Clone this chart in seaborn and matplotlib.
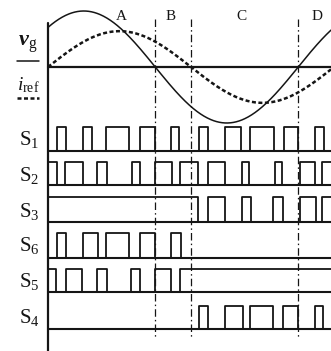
import numpy as np
import pandas as pd
import seaborn as sns
from matplotlib import pyplot as plt

sns.set_theme(style='white')
plt.rcParams['font.family'] = ['Liberation Serif', 'DejaVu Serif']
plt.rcParams['mathtext.fontset'] = 'custom'
plt.rcParams['mathtext.rm'] = 'Liberation Serif'
plt.rcParams['mathtext.it'] = 'Liberation Serif:italic'
plt.rcParams['mathtext.bf'] = 'Liberation Serif:bold:italic'

# phase angle in degrees (0 = start of i_ref)
region_names = ['A', 'B', 'C', 'D']
region_bounds = [135, 180, 315]
vg_phase = 45          # v_g leads i_ref
vg_amp, iref_amp = 1.0, 0.64

# switching signals: (on, off) in degrees
S1 = [(11, 23), (44, 55), (73, 102), (116, 135), (155, 165),
      (190, 201), (223, 243), (254, 285), (297, 315), (336, 347)]
S2 = [(0, 11), (21, 44), (62, 74), (106, 116), (135, 156), (166, 189),
      (201, 223), (244, 253), (286, 295), (317, 336), (345, 365)]
S3 = [(0, 189), (201, 223), (244, 256), (283, 296), (317, 337), (345, 365)]
S6 = [(11, 23), (44, 63), (73, 102), (116, 135), (155, 167)]
S5 = [(0, 10), (23, 43), (62, 74), (104, 116), (135, 155), (166, 365)]
S4 = [(190, 201), (223, 245), (254, 283), (296, 315), (336, 346)]
signal_labels = ['1', '2', '3', '6', '5', '4']
signals = [S1, S2, S3, S6, S5, S4]

# layout (pixel rows, y grows downward)
x_end = 356.2
zero_y, wave_scale = 67, 56
row_low = [150.5, 185, 221.5, 257.5, 292, 328.5]
row_high = [126.5, 162, 197, 233, 269, 305.5]
label_y = [140, 175, 211, 246, 282, 318]
label_x = -24
ink = '#151515'

fig = plt.figure(figsize=(3.31, 3.51), dpi=100)
ax = fig.add_axes([0, 0, 1, 1])

theta = np.linspace(0, x_end, 500)
waves = pd.DataFrame({
    'theta': theta,
    'vg': zero_y - wave_scale * vg_amp * np.sin(np.radians(theta + vg_phase)),
    'iref': zero_y - wave_scale * iref_amp * np.sin(np.radians(theta)),
})
sns.lineplot(data=waves, x='theta', y='vg', ax=ax, color=ink, lw=1.1)
sns.lineplot(data=waves, x='theta', y='iref', ax=ax, color=ink, lw=1.8,
             linestyle=(0, (1.6, 1.0)))

# axes lines
ax.plot([0, x_end], [zero_y, zero_y], color=ink, lw=1.6)
ax.plot([0, 0], [23, 351], color=ink, lw=1.6)

for pulses, lo, hi in zip(signals, row_low, row_high):
    xs, ys = [0], [lo]
    for a, b in pulses:
        xs += [a, a, b, b]
        ys += [lo, hi, hi, lo]
    xs.append(x_end + 10)
    ys.append(lo)
    step = pd.DataFrame({'x': xs, 'y': ys})
    sns.lineplot(data=step, x='x', y='y', ax=ax, sort=False, estimator=None,
                 color=ink, lw=1.3)
    ax.plot([0, x_end], [lo, lo], color=ink, lw=1.5)

for xb in region_bounds:
    ax.plot([xb, xb], [19, 338], color=ink, lw=0.9,
            linestyle=(0, (6, 2.5, 1.2, 2.5)))

name_x = [92, 154, 243, 338]
for nm, xn in zip(region_names, name_x):
    ax.text(xn, 17, nm, ha='center', va='center', fontsize=11, color=ink)

ax.text(label_x - 1, 44, r'$\mathbf{v}_{\mathrm{g}}$', ha='center',
        va='center', fontsize=16, color=ink)
ax.plot([-39, -11], [61, 61], color=ink, lw=1.1)
ax.text(label_x - 1, 85, r'$i_{\mathrm{ref}}$', ha='center', va='center',
        fontsize=14, color=ink)
ax.plot([-39, -11], [98, 98], color=ink, lw=1.8, linestyle=(0, (1.6, 1.0)))

for lab, yl in zip(signal_labels, label_y):
    ax.text(label_x, yl, r'$\mathrm{S}_{%s}$' % lab, ha='center', va='center',
            fontsize=15, color=ink)

ax.set_xlim(-60.4, x_end)
ax.set_ylim(351, 0)
ax.axis('off')
fig.savefig('out.png', dpi=100, facecolor='white')
